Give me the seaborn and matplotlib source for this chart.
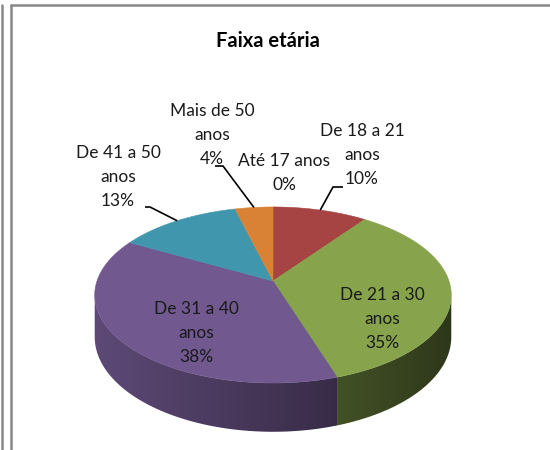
import numpy as np
import matplotlib
matplotlib.use('Agg')
import matplotlib.pyplot as plt
import matplotlib.colors as mcolors
from matplotlib.lines import Line2D
from matplotlib.patches import Polygon
import seaborn as sns

# data
categories = ['Até 17 anos', 'De 18 a 21\nanos', 'De 21 a 30\nanos',
              'De 31 a 40\nanos', 'De 41 a 50\nanos', 'Mais de 50\nanos']
percents = [0, 10, 35, 38, 13, 4]
title = 'Faixa etária'

palette = sns.color_palette(['#4F81BD', '#A54442', '#87A44D',
                             '#71588F', '#4097AD', '#D98236'])

# layout (pixel space, y down)
CX, CY = 273, 281          # projected centre of the pie top
R, RY = 176, 85.8          # radii of the top disc
P = 0.159                  # perspective strength
DEPTH = 41                 # thickness of the pie
label_pos = [(284, 173), (362, 155), (382, 319),
             (196, 333), (118, 177), (212, 135)]
# leader lines: (elbow x, elbow y, end of short horizontal stub x)
leaders = {1: (333, 187, 343), 4: (150, 207, 145), 5: (223, 166, 215)}

sns.set_theme(style='white')
plt.rcParams['font.family'] = ['Lato', 'DejaVu Sans']


def proj(theta, drop=0.0):
    t = np.radians(theta)
    den = 1 + P * np.cos(t)
    x = CX + R * np.sin(t) / den
    y = CY + (-RY * np.cos(t) + drop) / den
    return x, y


def shade(color, x):
    f = np.clip(0.83 - 0.00138 * (x - 95), 0.3, 1.0)
    return np.array(mcolors.to_rgb(color))[None, :] * f[:, None]


fig = plt.figure(figsize=(5.5, 4.5), dpi=100)
ax = fig.add_axes([0, 0, 1, 1])

bounds = np.concatenate([[0], np.cumsum(percents)]) * 3.6
front_a = np.degrees(np.arccos(-P))
front_b = 360 - front_a

# side walls, shaded left to right
for i, pct in enumerate(percents):
    a0, a1 = max(bounds[i], front_a), min(bounds[i + 1], front_b)
    if a1 <= a0:
        continue
    th = np.linspace(a0, a1, 120)
    tx, ty = proj(th)
    bx, by = proj(th[::-1], DEPTH)
    verts = np.column_stack([np.r_[tx, bx], np.r_[ty, by]])
    patch = Polygon(verts, closed=True, fc='none', ec='none')
    ax.add_patch(patch)
    x_lo, x_hi = verts[:, 0].min() - 1, verts[:, 0].max() + 1
    y_lo, y_hi = verts[:, 1].min() - 1, verts[:, 1].max() + 1
    xs = np.linspace(x_lo, x_hi, 200)
    img = np.repeat(shade(palette[i], xs)[None, :, :], 2, axis=0)
    im = ax.imshow(img, extent=(x_lo, x_hi, y_hi, y_lo), aspect='auto',
                   interpolation='bilinear', zorder=1)
    im.set_clip_path(patch)

ax.set_xlim(0, 550)
ax.set_ylim(450, 0)
ax.axis('off')

# top surface
for i, pct in enumerate(percents):
    if pct == 0:
        continue
    th = np.linspace(bounds[i], bounds[i + 1], 80)
    xs, ys = proj(th)
    ax.fill(np.r_[CX, xs], np.r_[CY, ys], color=palette[i], lw=0.4,
            ec=palette[i], zorder=2)

# labels
for i, (cat, pct) in enumerate(zip(categories, percents)):
    lx, ly = label_pos[i]
    ax.text(lx, ly, f'{cat}\n{pct}%', ha='center', va='center',
            fontsize=12.5, color='#1a1a1a', linespacing=1.6, zorder=4)

# leader lines
for i, (ex, ey, sx) in leaders.items():
    mid = (bounds[i] + bounds[i + 1]) / 2
    px, py = proj(mid)
    ax.plot([sx, ex, px], [ey, ey, py], color='black', lw=1.2,
            solid_capstyle='butt', zorder=3)

ax.text(268, 41, title, ha='center', va='center', fontsize=14.5,
        fontweight='bold', color='black')

# chart frame
fc = '#888888'
for xs, ys in [([2, 2], [5, 450]), ([11, 11], [5, 450]), ([11, 550], [5, 5])]:
    ax.add_line(Line2D(xs, ys, color=fc, lw=1.8))

fig.savefig('out.png', dpi=100)
